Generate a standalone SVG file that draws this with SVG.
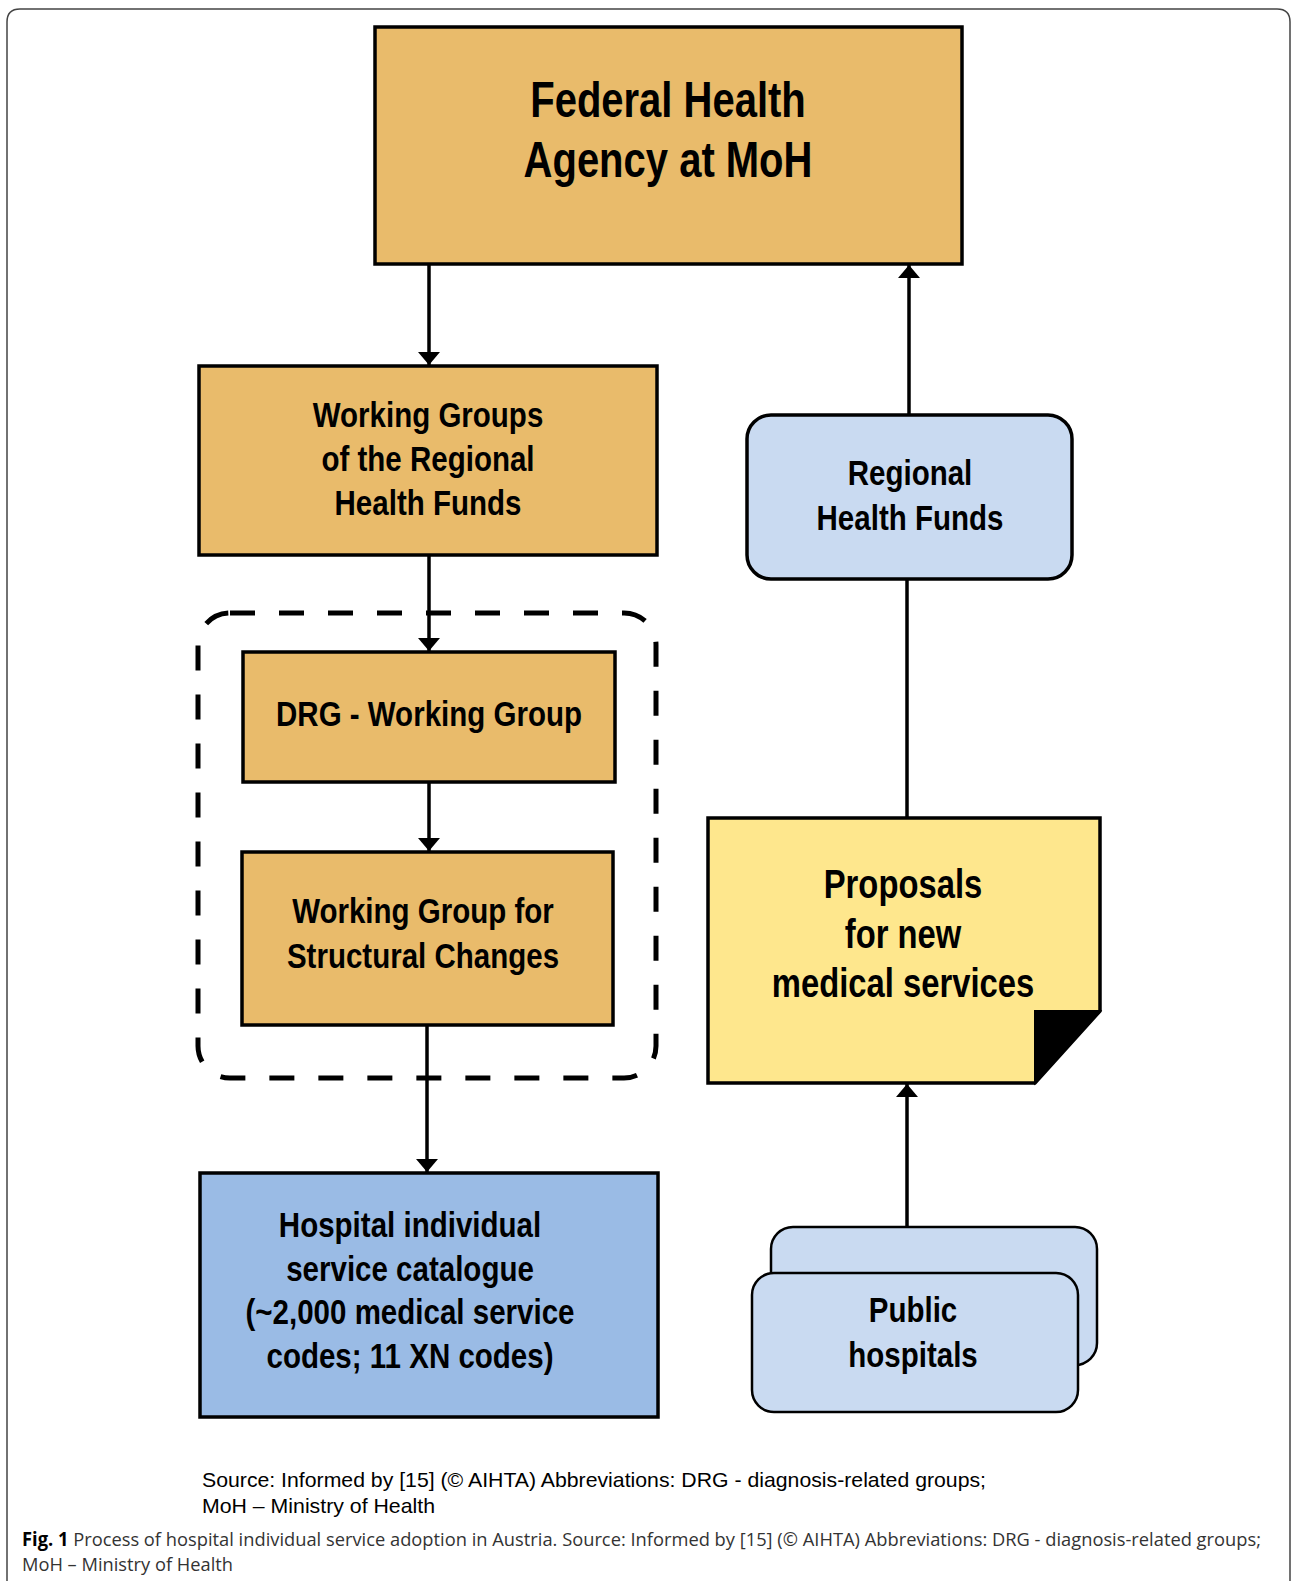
<svg xmlns="http://www.w3.org/2000/svg" width="1292" height="1581" viewBox="0 0 1292 1581">
<style>
.box{stroke:#000;stroke-width:3.5}
.org{fill:#e9bb6b}
.lb{fill:#c9daf1}
.hb{fill:#9abbe5}
.yl{fill:#fee78d}
.t{font-family:"Liberation Sans",Arial,sans-serif;font-weight:bold;fill:#000;text-anchor:middle}
.t36{font-size:36px}
.t40{font-size:40px}
.t50{font-size:50px}
.con{stroke:#000;stroke-width:3.5;fill:none}
.cap{font-family:"Liberation Sans",Arial,sans-serif;font-size:21px;fill:#000}
.fig{font-family:"Open Sans","Liberation Sans",sans-serif;font-size:19px;fill:#333}
</style>
<defs>
<marker id="ah" viewBox="0 0 13 22" refX="13" refY="11" markerWidth="13" markerHeight="22" markerUnits="userSpaceOnUse" orient="auto">
<path d="M0,0 L13,11 L0,22 Z" fill="#000"/>
</marker>
</defs>
<rect width="1292" height="1581" fill="#fff"/>
<path d="M7,1581 V22 Q7,9 20,9 H1277 Q1290,9 1290,22 V1581" fill="none" stroke="#444" stroke-width="1.5"/>

<g id="connectors">
<line class="con" x1="429" y1="264" x2="429" y2="365" marker-end="url(#ah)"/>
<line class="con" x1="429" y1="555" x2="429" y2="651" marker-end="url(#ah)"/>
<line class="con" x1="429" y1="782" x2="429" y2="851" marker-end="url(#ah)"/>
<line class="con" x1="427" y1="1025" x2="427" y2="1172" marker-end="url(#ah)"/>
<line class="con" x1="909" y1="415" x2="909" y2="265" marker-end="url(#ah)"/>
<line class="con" x1="907" y1="579" x2="907" y2="818"/>
<line class="con" x1="907" y1="1227" x2="907" y2="1084" marker-end="url(#ah)"/>
</g>

<g id="group-drg">
<rect x="198" y="613" width="458" height="465" rx="32" fill="none" stroke="#000" stroke-width="5" stroke-dasharray="25,24"/>
</g>

<g id="federal">
<rect class="box org" x="375" y="27" width="587" height="237"/>
<text class="t t50" transform="translate(668 117) scale(0.8 1)">Federal Health</text>
<text class="t t50" transform="translate(668 177) scale(0.8 1)">Agency at MoH</text>
</g>

<g id="working-groups">
<rect class="box org" x="199" y="366" width="458" height="189"/>
<text class="t t36" transform="translate(428 427) scale(0.82 1)">Working Groups</text>
<text class="t t36" transform="translate(428 471) scale(0.82 1)">of the Regional</text>
<text class="t t36" transform="translate(428 515) scale(0.82 1)">Health Funds</text>
</g>

<g id="regional-health-funds">
<rect class="box lb" x="747" y="415" width="325" height="164" rx="24"/>
<text class="t t36" transform="translate(910 485) scale(0.82 1)">Regional</text>
<text class="t t36" transform="translate(910 530) scale(0.82 1)">Health Funds</text>
</g>

<g id="drg-working-group">
<rect class="box org" x="243" y="652" width="372" height="130"/>
<text class="t t36" transform="translate(429 726) scale(0.82 1)">DRG - Working Group</text>
</g>

<g id="wg-structural">
<rect class="box org" x="242" y="852" width="371" height="173"/>
<text class="t t36" transform="translate(423 923) scale(0.82 1)">Working Group for</text>
<text class="t t36" transform="translate(423 968) scale(0.82 1)">Structural Changes</text>
</g>

<g id="catalogue">
<rect class="box hb" x="200" y="1173" width="458" height="244"/>
<text class="t t36" transform="translate(410 1237) scale(0.82 1)">Hospital individual</text>
<text class="t t36" transform="translate(410 1281) scale(0.82 1)">service catalogue</text>
<text class="t t36" transform="translate(410 1324) scale(0.82 1)">(~2,000 medical service</text>
<text class="t t36" transform="translate(410 1368) scale(0.82 1)">codes; 11 XN codes)</text>
</g>

<g id="proposals">
<path class="box yl" d="M708,818 H1100 V1011 L1035,1083 H708 Z"/>
<path d="M1035,1011 H1100 L1035,1083 Z" fill="#000" stroke="#000" stroke-width="2"/>
<text class="t t40" transform="translate(903 898) scale(0.82 1)">Proposals</text>
<text class="t t40" transform="translate(903 948) scale(0.82 1)">for new</text>
<text class="t t40" transform="translate(903 997) scale(0.82 1)">medical services</text>
</g>

<g id="public-hospitals">
<rect x="771" y="1227" width="326" height="138" rx="22" class="lb" stroke="#000" stroke-width="2.5"/>
<rect x="752" y="1273" width="326" height="139" rx="22" class="lb" stroke="#000" stroke-width="2.5"/>
<text class="t t36" transform="translate(913 1322) scale(0.82 1)">Public</text>
<text class="t t36" transform="translate(913 1367) scale(0.82 1)">hospitals</text>
</g>

<g id="caption">
<text class="cap" x="202" y="1487" textLength="784" lengthAdjust="spacingAndGlyphs">Source: Informed by [15] (© AIHTA) Abbreviations: DRG - diagnosis-related groups;</text>
<text class="cap" x="202" y="1513" textLength="233" lengthAdjust="spacingAndGlyphs">MoH – Ministry of Health</text>
<text class="fig" x="22" y="1546" textLength="1239" lengthAdjust="spacingAndGlyphs"><tspan font-weight="bold" fill="#000">Fig. 1</tspan>  Process of hospital individual service adoption in Austria. Source: Informed by [15] (© AIHTA) Abbreviations: DRG - diagnosis-related groups;</text>
<text class="fig" x="22" y="1571" textLength="211" lengthAdjust="spacingAndGlyphs">MoH – Ministry of Health</text>
</g>
</svg>
